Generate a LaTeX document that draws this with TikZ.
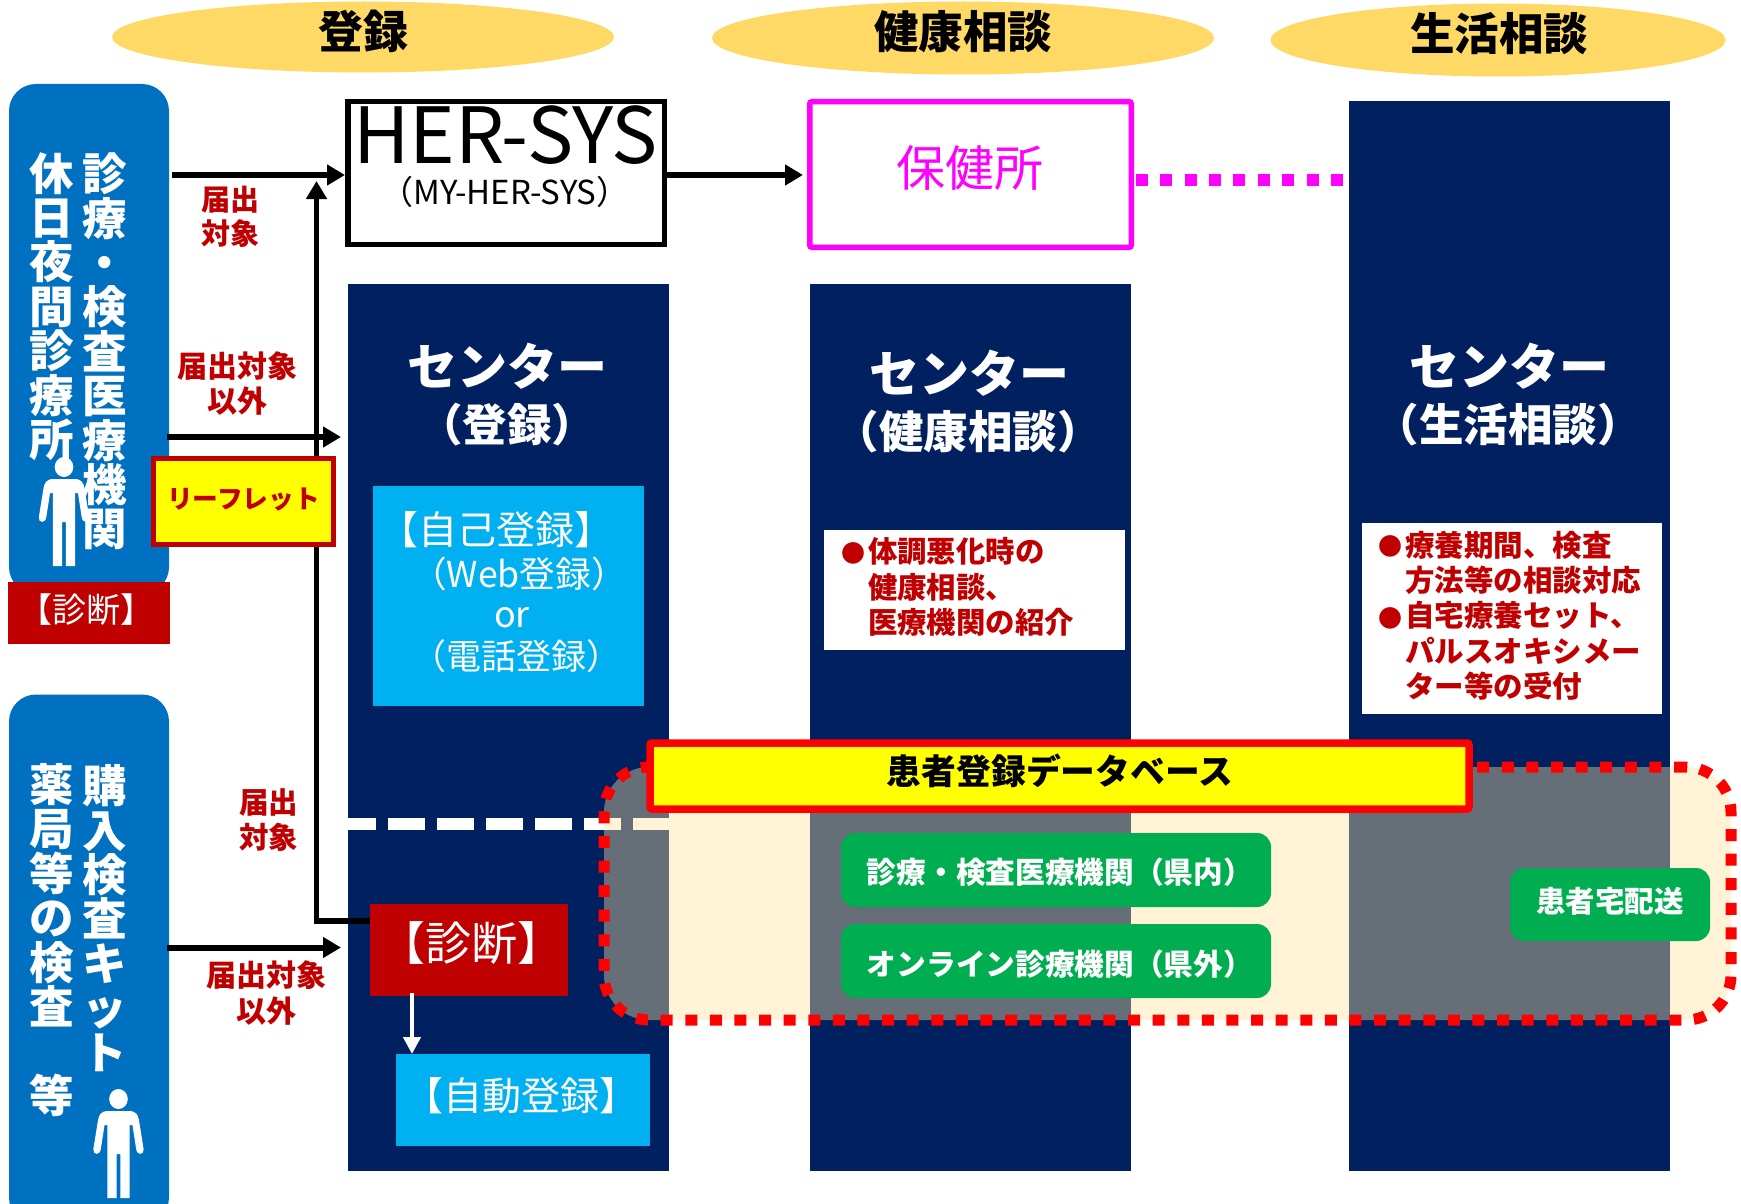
\documentclass[tikz,border=0pt]{standalone}
\usepackage{fontspec}
\setmainfont{Noto Sans CJK JP}
\usetikzlibrary{shapes.geometric,arrows.meta}
\definecolor{navy}{HTML}{002060}
\definecolor{dred}{HTML}{C00000}
\definecolor{sky}{HTML}{00B0F0}
\definecolor{lblue}{HTML}{0070C0}
\definecolor{oval}{HTML}{FFD966}
\definecolor{veil}{HTML}{FFE39D}
\definecolor{gbox}{HTML}{00AD50}
\definecolor{mgt}{HTML}{FF00FF}
\definecolor{ylw}{HTML}{FFFF00}
\definecolor{rd}{HTML}{FF0000}
\tikzset{
  fs/.style 2 args={font=\fontsize{#1}{#2}\selectfont},
  fb/.style 2 args={font=\fontsize{#1}{#2}\selectfont\bfseries},
  txt/.style={inner sep=0pt,outer sep=0pt,align=center},
  oval/.style={ellipse,fill=oval,inner sep=0pt},
  panel/.style={rectangle,fill=navy,inner sep=0pt,outer sep=0pt},
  flat/.style={rectangle,inner sep=0pt,outer sep=0pt},
  side/.style={rectangle,rounded corners=27pt,fill=lblue,inner sep=0pt},
  green/.style={rectangle,rounded corners=14pt,fill=gbox,inner sep=0pt,text=white,align=center},
  arr/.style={line width=6pt,-{Triangle[length=18pt,width=20pt]},black},
  redlbl/.style={txt,text=dred},
}
\newcommand{\personfig}[2]{%
  \fill[white,shift={(#1,#2)},xscale=.93,line join=round]
    (0,-12) circle[radius=10]
    (-11,0) -- (11,0) .. controls (19,0) and (21,4) .. (22,9) -- (27,38)
    .. controls (28,44) and (20,45) .. (19,38) -- (15,14) -- (12,14) -- (12,87)
    -- (2,87) -- (2,43) -- (-2,43) -- (-2,87) -- (-12,87) -- (-12,14) -- (-15,14)
    -- (-19,38) .. controls (-20,45) and (-28,44) .. (-27,38) -- (-22,9)
    .. controls (-21,4) and (-19,0) .. (-11,0) -- cycle;}
\begin{document}
\begin{tikzpicture}[x=1pt,y=-1pt]
\clip (0,0) rectangle (1741,1204);
\fill[white] (0,0) rectangle (1741,1204);
% header ovals
\node[oval,minimum width=502pt,minimum height=71pt] (ovA) at (363,37) {};
\node[oval,minimum width=502pt,minimum height=73pt] (ovB) at (963,38) {};
\node[oval,minimum width=455pt,minimum height=73pt] (ovC) at (1498,40) {};
\node[txt,fb={45}{50}] (ovAt) at (363,31) {登録};
\node[txt,fb={44.5}{50}] (ovBt) at (963,32) {健康相談};
\node[txt,fb={44.5}{50}] (ovCt) at (1499,34) {生活相談};
% navy columns
\node[panel,minimum width=321pt,minimum height=887pt] (colA) at (508.5,727) {};
\node[panel,minimum width=321pt,minimum height=887pt] (colB) at (970.5,727) {};
\node[panel,minimum width=321pt,minimum height=1069pt] (colC) at (1509.5,636) {};
% dashed white
\coordinate (dashL) at (348,824);
\coordinate (dashR) at (669,824);
\draw[white,line width=12pt,dash pattern=on 37pt off 12pt,dash phase=9pt] (dashL) -- (dashR);
% left boxes
\node[side,minimum width=160pt,minimum height=510pt] (srcA) at (89,339) {};
\node[side,minimum width=160pt,minimum height=530pt] (srcB) at (89,959.5) {};
\node[flat,fill=dred,minimum width=162pt,minimum height=62pt,text=white,fs={34}{38}] (diagA) at (89,613) {\raisebox{9pt}{\kern-5pt 【診断】}};
\node[txt,text=white,fb={44.5}{44.4}] (srcA2) at (105,351.5) {診\\療\\・\\検\\査\\医\\療\\機\\関};
\node[txt,text=white,fb={44.5}{44.4}] (srcA1) at (52,306.5) {休\\日\\夜\\間\\診\\療\\所};
\node[txt,text=white,fb={44.5}{44.4}] (srcB2) at (105,918) {購\\入\\検\\査\\キ\\ッ\\ト};
\node[txt,text=white,fb={44.5}{44.4}] (srcB1) at (51.5,940) {薬\\局\\等\\の\\検\\査\\\mbox{}\\等};
\personfig{64}{479}
\personfig{118.5}{1111}
% HER-SYS and hokenjo
\node[flat,draw=black,line width=5.5pt,fill=white,minimum width=316.5pt,minimum height=142.5pt,outer sep=2.75pt] (her) at (506,173) {};
\node[txt,fs={77.5}{80}] (herT) at (505.5,135) {HER-SYS};
\node[txt,fs={33}{36}] (herS) at (505,192) {（MY-HER-SYS）};
\node[flat,draw=mgt,line width=5.5pt,fill=white,rounded corners=2pt,minimum width=321.5pt,minimum height=145.5pt] (hoken) at (970.5,174.5) {};
\node[txt,text=mgt,fs={49}{54}] (hokenT) at (970,168) {保健所};
\coordinate (dotL) at (1135.7,179.7);
\coordinate (dotR) at (1343,179.7);
\draw[mgt,line width=12pt,dash pattern=on 12pt off 12.4pt] (dotL) -- (dotR);
% centre titles
\node[txt,text=white,fb={50}{58}] (tA1) at (507,366) {センター};
\node[txt,text=white,fb={44.5}{50}] (tA2) at (507,425) {（登録）};
\node[txt,text=white,fb={50}{58}] (tB1) at (969,373) {センター};
\node[txt,text=white,fb={44.5}{50}] (tB2) at (968,431.5) {（健康相談）};
\node[txt,text=white,fb={50}{58}] (tC1) at (1509,366) {センター};
\node[txt,text=white,fb={44.5}{50}] (tC2) at (1508,425) {（生活相談）};
% self registration
\node[flat,fill=sky,minimum width=271pt,minimum height=220pt] (self) at (508.5,596) {};
\node[txt,text=white,fs={39}{42}] (self1) at (496,530) {【自己登録】};
\node[txt,text=white,fs={35.7}{42}] (self2) at (519,574) {（Web登録）};
\node[txt,text=white,fs={36}{42}] (self3) at (512,618) {or};
\node[txt,text=white,fs={35}{42}] (self4) at (516,656) {（電話登録）};
% diagnosis / auto registration
\node[flat,fill=dred,minimum width=198pt,minimum height=92pt,text=white,fs={46}{50}] (diagB) at (469,950) {\raisebox{17pt}{\kern5pt 【診断】}};
\node[flat,fill=sky,minimum width=254pt,minimum height=92pt,text=white,fs={39}{42}] (auto) at (523,1100) {\raisebox{13pt}{\kern-3pt 【自動登録】}};
\coordinate (dgOut) at (412,993);
\draw[white,line width=4.5pt,-{Triangle[length=17pt,width=17pt]}] (dgOut) -- (dgOut |- auto.north);
% info boxes
\node[flat,fill=white,minimum width=301pt,minimum height=120pt] (infoB) at (974.5,590) {};
\node[txt,text=dred,fs={24}{26}] (bulB) at (853,553) {●};
\node[txt,text=dred,fb={29.4}{35.5},anchor=north west,align=left] (infoBt) at (868,537.5) {体調悪化時の\\健康相談、\\医療機関の紹介};
\node[flat,fill=white,minimum width=300pt,minimum height=191pt] (infoC) at (1512,618.5) {};
\node[txt,text=dred,fs={24}{26}] (bulC1) at (1390,546) {●};
\node[txt,text=dred,fs={24}{26}] (bulC2) at (1390,618) {●};
\node[txt,text=dred,fb={29.5}{35.3},anchor=north west,align=left] (infoCt) at (1405,531) {療養期間、検査\\方法等の相談対応\\自宅療養セット、\\パルスオキシメー\\ター等の受付};
% veil
\node[rectangle,rounded corners=45pt,fill=veil,fill opacity=.4,draw=rd,draw opacity=1,line width=11pt,dash pattern=on 12pt off 12.6pt,minimum width=1127pt,minimum height=253pt,inner sep=0pt] (veil) at (1167.5,893.5) {};
% green
\node[green,minimum width=430pt,minimum height=74pt] (gr1) at (1056,870) {};
\node[green,minimum width=430pt,minimum height=74pt] (gr2) at (1056,961) {};
\node[green,minimum width=200pt,minimum height=73pt] (gr3) at (1610,904.5) {};
\node[txt,text=white,fb={29.7}{32}] (gr1t) at (1060,872.5) {診療・検査医療機関（県内）};
\node[txt,text=white,fb={29.7}{32}] (gr2t) at (1060,964) {オンライン診療機関（県外）};
\node[txt,text=white,fb={29.5}{32}] (gr3t) at (1610,901) {患者宅配送};
% database
\node[flat,draw=rd,line width=7.5pt,fill=ylw,rounded corners=2pt,minimum width=819pt,minimum height=66pt] (db) at (1059.5,776) {};
\node[txt,fb={34.8}{38}] (dbT) at (1060,771) {患者登録データベース};
% arrows
\coordinate (upTip) at (316.5,181);
\coordinate (inA) at (341,437);
\coordinate (srcAo) at (167,437);
\coordinate (inD) at (341,947.5);
\coordinate (srcBo) at (167,947.5);
\coordinate (srcAt) at (172,175);
\coordinate (herW) at (345,175);
\coordinate (hokW) at (803,175);
\coordinate (herE) at (667,175);
\coordinate (dgW) at (370,921);
\draw[line width=5.5pt,-{Triangle[length=18pt,width=20pt]}] (dgW) -| (upTip);
\draw[arr] (srcAt) -- (herW);
\draw[arr] (srcAo) -- (inA);
\draw[arr] (srcBo) -- (inD);
\draw[arr] (herE) -- (hokW);
% leaflet
\node[flat,draw=dred,line width=5pt,fill=ylw,minimum width=180pt,minimum height=86pt,text=dred,fb={25.7}{28}] (leaf) at (243.5,501.5) {\raisebox{6pt}{リーフレット}};
% labels
\node[redlbl,fb={29}{34.5}] (lb1) at (230,217) {届出\\対象};
\node[redlbl,fb={30}{34.5}] (lb2) at (237,383.5) {届出対象\\以外};
\node[redlbl,fb={29.5}{35}] (lb3) at (268.5,820.5) {届出\\対象};
\node[redlbl,fb={30}{36}] (lb4) at (266.5,993) {届出対象\\以外};
\end{tikzpicture}
\end{document}
